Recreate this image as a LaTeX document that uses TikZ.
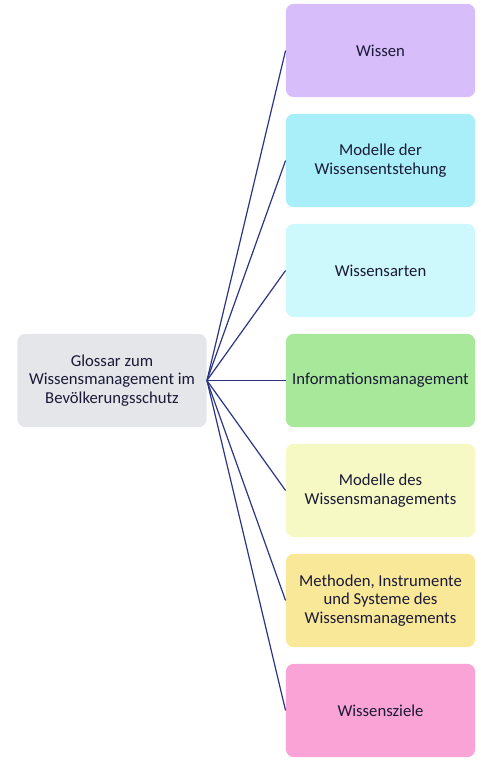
\documentclass[tikz,border=0pt]{standalone}
\usepackage{fontspec}
\setmainfont{Carlito}
\definecolor{linie}{HTML}{2B3584}
\definecolor{schrift}{HTML}{1A1A36}
\definecolor{grau}{HTML}{E4E6EA}
\definecolor{lila}{HTML}{D7BDFA}
\definecolor{tuerkis}{HTML}{A8EFFA}
\definecolor{hellblau}{HTML}{CDF9FC}
\definecolor{gruen}{HTML}{A8E89A}
\definecolor{hellgelb}{HTML}{F6F9C4}
\definecolor{gelb}{HTML}{F9E897}
\definecolor{rosa}{HTML}{F9A3D6}
\begin{document}
\begin{tikzpicture}[x=0.75pt,y=-0.75pt,
    box/.style={rounded corners=6pt, minimum width=142pt, minimum height=70pt,
      align=center, text=schrift, font=\fontsize{12.5}{14}\selectfont, inner sep=2pt},
    ast/.style={draw=linie, line width=0.9pt}]
      \useasboundingbox (0,0) rectangle (480,762);

      \node[box, fill=grau] (A) at (112,380.5) {Glossar zum\\Wissensmanagement im\\Bevölkerungsschutz};

      \node[box, fill=lila] (B) at (380.5,50.5) {Wissen};
      \node[box, fill=tuerkis] (C) at (380.5,160.5) {Modelle der\\Wissensentstehung};
      \node[box, fill=hellblau] (D) at (380.5,270.5) {Wissensarten};
      \node[box, fill=gruen] (E) at (380.5,380.5) {Informationsmanagement};
      \node[box, fill=hellgelb] (F) at (380.5,490.5) {Modelle des\\Wissensmanagements};
      \node[box, fill=gelb] (G) at (380.5,600.5) {Methoden, Instrumente\\und Systeme des\\Wissensmanagements};
      \node[box, fill=rosa] (H) at (380.5,710.5) {Wissensziele};

      \draw[ast] (A.east) -- (B.west);
      \draw[ast] (A.east) -- (C.west);
      \draw[ast] (A.east) -- (D.west);
      \draw[ast] (A.east) -- (E.west);
      \draw[ast] (A.east) -- (F.west);
      \draw[ast] (A.east) -- (G.west);
      \draw[ast] (A.east) -- (H.west);
    \end{tikzpicture}
\end{document}
